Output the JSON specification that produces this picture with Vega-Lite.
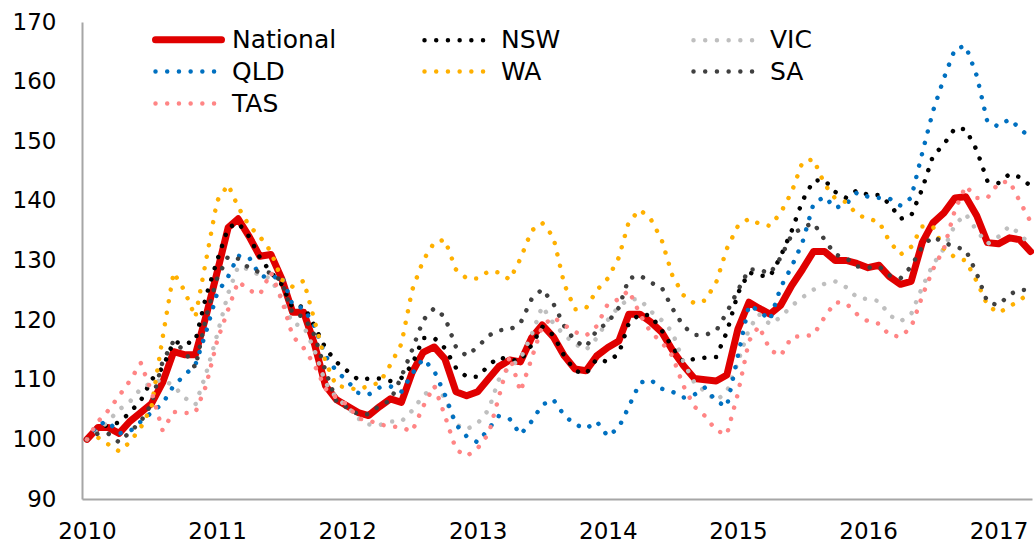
{
  "$schema": "https://vega.github.io/schema/vega-lite/v6.json",
  "width": 950,
  "height": 477,
  "autosize": {"type": "none"},
  "padding": {"left": 82, "top": 22, "right": 2, "bottom": 46},
  "background": "white",
  "config": {"view": {"stroke": null}, "font": "DejaVu Sans"},
  "data": {"values": [
    {"d": "2010/01/01", "National": 100, "NSW": 100, "VIC": 100, "QLD": 100, "WA": 100, "SA": 100, "TAS": 100},
    {"d": "2010/02/01", "National": 102, "NSW": 101.7, "VIC": 101.5, "QLD": 102.5, "WA": 100.3, "SA": 101, "TAS": 103},
    {"d": "2010/03/01", "National": 102, "NSW": 102.5, "VIC": 103, "QLD": 103, "WA": 99.2, "SA": 101, "TAS": 104.8},
    {"d": "2010/04/01", "National": 101, "NSW": 102.8, "VIC": 105, "QLD": 101, "WA": 98, "SA": 99.5, "TAS": 107.3},
    {"d": "2010/05/01", "National": 103, "NSW": 104.5, "VIC": 106.3, "QLD": 101.3, "WA": 99.5, "SA": 101.2, "TAS": 109.8},
    {"d": "2010/06/01", "National": 104.5, "NSW": 106.5, "VIC": 108.5, "QLD": 103, "WA": 102, "SA": 103, "TAS": 112.8},
    {"d": "2010/07/01", "National": 106, "NSW": 110, "VIC": 109.5, "QLD": 104.5, "WA": 105.5, "SA": 106, "TAS": 108},
    {"d": "2010/08/01", "National": 109.5, "NSW": 112, "VIC": 110, "QLD": 106, "WA": 117, "SA": 113, "TAS": 101.5},
    {"d": "2010/09/01", "National": 114.7, "NSW": 116.4, "VIC": 109, "QLD": 109, "WA": 128, "SA": 116.5, "TAS": 104.6},
    {"d": "2010/10/01", "National": 114.2, "NSW": 116, "VIC": 107, "QLD": 110.7, "WA": 125, "SA": 114.8, "TAS": 104.4},
    {"d": "2010/11/01", "National": 114.2, "NSW": 116.5, "VIC": 105.8, "QLD": 112.5, "WA": 120.5, "SA": 112, "TAS": 104.5},
    {"d": "2010/12/01", "National": 120.7, "NSW": 124, "VIC": 111, "QLD": 118, "WA": 130, "SA": 120.5, "TAS": 109},
    {"d": "2011/01/01", "National": 128, "NSW": 130, "VIC": 117.5, "QLD": 124.5, "WA": 140, "SA": 127, "TAS": 116.5},
    {"d": "2011/02/01", "National": 135.5, "NSW": 135.5, "VIC": 124.5, "QLD": 127.3, "WA": 142.7, "SA": 130.7, "TAS": 121.8},
    {"d": "2011/03/01", "National": 137, "NSW": 136.3, "VIC": 129, "QLD": 130.8, "WA": 139, "SA": 130.3, "TAS": 126.5},
    {"d": "2011/04/01", "National": 134, "NSW": 134, "VIC": 128.5, "QLD": 130.5, "WA": 135.8, "SA": 128.7, "TAS": 125},
    {"d": "2011/05/01", "National": 130.7, "NSW": 130.5, "VIC": 127.5, "QLD": 127.5, "WA": 134, "SA": 128, "TAS": 124.3},
    {"d": "2011/06/01", "National": 131, "NSW": 128, "VIC": 127, "QLD": 127, "WA": 131.5, "SA": 128, "TAS": 128},
    {"d": "2011/07/01", "National": 127, "NSW": 126, "VIC": 123.5, "QLD": 127.5, "WA": 126.8, "SA": 126.5, "TAS": 123.5},
    {"d": "2011/08/01", "National": 121.3, "NSW": 122, "VIC": 119.4, "QLD": 122.5, "WA": 125.6, "SA": 121, "TAS": 117.3},
    {"d": "2011/09/01", "National": 121.3, "NSW": 122.4, "VIC": 119, "QLD": 122, "WA": 126.6, "SA": 120.6, "TAS": 115.3},
    {"d": "2011/10/01", "National": 116, "NSW": 119, "VIC": 115, "QLD": 119, "WA": 120, "SA": 117.5, "TAS": 112.5},
    {"d": "2011/11/01", "National": 109, "NSW": 115.3, "VIC": 109.5, "QLD": 114, "WA": 113, "SA": 111.5, "TAS": 108.5},
    {"d": "2011/12/01", "National": 106.7, "NSW": 113, "VIC": 107, "QLD": 111.5, "WA": 109, "SA": 106.5, "TAS": 107},
    {"d": "2012/01/01", "National": 105.6, "NSW": 111.5, "VIC": 105.5, "QLD": 109.8, "WA": 108.7, "SA": 105.3, "TAS": 105.8},
    {"d": "2012/02/01", "National": 104.5, "NSW": 110, "VIC": 103.5, "QLD": 107.8, "WA": 108.3, "SA": 104.2, "TAS": 103.5},
    {"d": "2012/03/01", "National": 104, "NSW": 110.2, "VIC": 102.5, "QLD": 107.5, "WA": 109, "SA": 104.2, "TAS": 103.2},
    {"d": "2012/04/01", "National": 105.5, "NSW": 110.2, "VIC": 102.4, "QLD": 108.7, "WA": 109.5, "SA": 105.7, "TAS": 102.5},
    {"d": "2012/05/01", "National": 106.8, "NSW": 109.8, "VIC": 103, "QLD": 108.9, "WA": 112.5, "SA": 106.5, "TAS": 102.2},
    {"d": "2012/06/01", "National": 106.2, "NSW": 110.3, "VIC": 103, "QLD": 108, "WA": 116, "SA": 110.5, "TAS": 102},
    {"d": "2012/07/01", "National": 111.2, "NSW": 112.5, "VIC": 104.8, "QLD": 111, "WA": 125, "SA": 115, "TAS": 101.3},
    {"d": "2012/08/01", "National": 114.6, "NSW": 117, "VIC": 107.3, "QLD": 113.5, "WA": 130, "SA": 120, "TAS": 105.5},
    {"d": "2012/09/01", "National": 115.5, "NSW": 117, "VIC": 108.9, "QLD": 111.5, "WA": 133, "SA": 122, "TAS": 109},
    {"d": "2012/10/01", "National": 113.5, "NSW": 115.3, "VIC": 107, "QLD": 107.5, "WA": 133.5, "SA": 120.5, "TAS": 104},
    {"d": "2012/11/01", "National": 108, "NSW": 112, "VIC": 102.5, "QLD": 102.5, "WA": 128.5, "SA": 115.5, "TAS": 98.3},
    {"d": "2012/12/01", "National": 107.3, "NSW": 110.5, "VIC": 101.7, "QLD": 100.5, "WA": 127, "SA": 114, "TAS": 97.2},
    {"d": "2013/01/01", "National": 108, "NSW": 110.5, "VIC": 102.7, "QLD": 99.5, "WA": 127, "SA": 115.5, "TAS": 98.5},
    {"d": "2013/02/01", "National": 110.2, "NSW": 112.4, "VIC": 105, "QLD": 101.8, "WA": 128.2, "SA": 117.4, "TAS": 101},
    {"d": "2013/03/01", "National": 112.2, "NSW": 113.8, "VIC": 110, "QLD": 103.9, "WA": 128, "SA": 118.3, "TAS": 107},
    {"d": "2013/04/01", "National": 113.3, "NSW": 113.3, "VIC": 112.2, "QLD": 103.4, "WA": 126.8, "SA": 118.4, "TAS": 114},
    {"d": "2013/05/01", "National": 113, "NSW": 113.2, "VIC": 113.5, "QLD": 100.8, "WA": 130.3, "SA": 119.5, "TAS": 108},
    {"d": "2013/06/01", "National": 117, "NSW": 115.8, "VIC": 117.5, "QLD": 103, "WA": 135, "SA": 123.5, "TAS": 113.5},
    {"d": "2013/07/01", "National": 119.2, "NSW": 118.9, "VIC": 122.3, "QLD": 105.8, "WA": 136.3, "SA": 125.2, "TAS": 119},
    {"d": "2013/08/01", "National": 117.2, "NSW": 117.5, "VIC": 119.5, "QLD": 106.7, "WA": 134, "SA": 122.8, "TAS": 120.5},
    {"d": "2013/09/01", "National": 114, "NSW": 114, "VIC": 117.5, "QLD": 104, "WA": 126, "SA": 119, "TAS": 119.2},
    {"d": "2013/10/01", "National": 111.8, "NSW": 111.5, "VIC": 116, "QLD": 102.5, "WA": 121.8, "SA": 116.5, "TAS": 118},
    {"d": "2013/11/01", "National": 111.5, "NSW": 111, "VIC": 115, "QLD": 101.8, "WA": 122, "SA": 115.5, "TAS": 117.4},
    {"d": "2013/12/01", "National": 114, "NSW": 113.5, "VIC": 117, "QLD": 103, "WA": 125, "SA": 118.3, "TAS": 119},
    {"d": "2014/01/01", "National": 115.4, "NSW": 113, "VIC": 120, "QLD": 100.5, "WA": 127, "SA": 119.6, "TAS": 122.7},
    {"d": "2014/02/01", "National": 116.5, "NSW": 114.4, "VIC": 122.3, "QLD": 102, "WA": 130.5, "SA": 122.1, "TAS": 123.5},
    {"d": "2014/03/01", "National": 121, "NSW": 119.5, "VIC": 123.5, "QLD": 105.5, "WA": 136.5, "SA": 127, "TAS": 125},
    {"d": "2014/04/01", "National": 121, "NSW": 121, "VIC": 123.5, "QLD": 109.5, "WA": 138.5, "SA": 127.5, "TAS": 121},
    {"d": "2014/05/01", "National": 119.7, "NSW": 120.8, "VIC": 121.5, "QLD": 110, "WA": 137, "SA": 126.3, "TAS": 118},
    {"d": "2014/06/01", "National": 118, "NSW": 118.3, "VIC": 120, "QLD": 108.5, "WA": 133.5, "SA": 125.5, "TAS": 116.3},
    {"d": "2014/07/01", "National": 115, "NSW": 115.5, "VIC": 118, "QLD": 108, "WA": 127.5, "SA": 122, "TAS": 114},
    {"d": "2014/08/01", "National": 112.4, "NSW": 113, "VIC": 113, "QLD": 107, "WA": 124.2, "SA": 119, "TAS": 109},
    {"d": "2014/09/01", "National": 110.2, "NSW": 113.5, "VIC": 109.5, "QLD": 107.5, "WA": 122.8, "SA": 117.5, "TAS": 105.5},
    {"d": "2014/10/01", "National": 110, "NSW": 113.7, "VIC": 108, "QLD": 108.7, "WA": 123.3, "SA": 117.5, "TAS": 103.9},
    {"d": "2014/11/01", "National": 109.8, "NSW": 113.8, "VIC": 106.5, "QLD": 106.4, "WA": 126.3, "SA": 118.2, "TAS": 101.5},
    {"d": "2014/12/01", "National": 110.8, "NSW": 118, "VIC": 108, "QLD": 105.5, "WA": 132, "SA": 121.3, "TAS": 100.8},
    {"d": "2015/01/01", "National": 118.5, "NSW": 124.5, "VIC": 113, "QLD": 114, "WA": 135.8, "SA": 125, "TAS": 107.7},
    {"d": "2015/02/01", "National": 123, "NSW": 128, "VIC": 118.5, "QLD": 122.5, "WA": 137, "SA": 128.5, "TAS": 116.5},
    {"d": "2015/03/01", "National": 122, "NSW": 127.5, "VIC": 121, "QLD": 121.6, "WA": 136.2, "SA": 128.5, "TAS": 119},
    {"d": "2015/04/01", "National": 121, "NSW": 127.3, "VIC": 119.3, "QLD": 120, "WA": 135.8, "SA": 127.8, "TAS": 115},
    {"d": "2015/05/01", "National": 122.5, "NSW": 130.7, "VIC": 120.5, "QLD": 125.5, "WA": 138, "SA": 130.5, "TAS": 114},
    {"d": "2015/06/01", "National": 125.8, "NSW": 135, "VIC": 122.4, "QLD": 129, "WA": 141.5, "SA": 134.3, "TAS": 117.2},
    {"d": "2015/07/01", "National": 128.5, "NSW": 140, "VIC": 123.8, "QLD": 133, "WA": 146.5, "SA": 135.5, "TAS": 117.3},
    {"d": "2015/08/01", "National": 131.5, "NSW": 143.4, "VIC": 125.1, "QLD": 139.5, "WA": 147, "SA": 136.3, "TAS": 117.5},
    {"d": "2015/09/01", "National": 131.5, "NSW": 143.5, "VIC": 126.1, "QLD": 140.7, "WA": 142.8, "SA": 133.5, "TAS": 120.5},
    {"d": "2015/10/01", "National": 130, "NSW": 141.5, "VIC": 126.5, "QLD": 138.8, "WA": 140.4, "SA": 131, "TAS": 123},
    {"d": "2015/11/01", "National": 130, "NSW": 140.5, "VIC": 125.5, "QLD": 139.5, "WA": 139.8, "SA": 130.4, "TAS": 122.8},
    {"d": "2015/12/01", "National": 129.5, "NSW": 141.8, "VIC": 123.8, "QLD": 141.4, "WA": 137.7, "SA": 129, "TAS": 121},
    {"d": "2016/01/01", "National": 128.8, "NSW": 141, "VIC": 123.5, "QLD": 140.7, "WA": 137, "SA": 128.8, "TAS": 119.8},
    {"d": "2016/02/01", "National": 129.2, "NSW": 141, "VIC": 123.2, "QLD": 140.5, "WA": 136.5, "SA": 129, "TAS": 119.4},
    {"d": "2016/03/01", "National": 127.3, "NSW": 139.5, "VIC": 120.8, "QLD": 140.4, "WA": 133.2, "SA": 127.5, "TAS": 117.5},
    {"d": "2016/04/01", "National": 126, "NSW": 137, "VIC": 119.8, "QLD": 139.2, "WA": 131, "SA": 127, "TAS": 117.2},
    {"d": "2016/05/01", "National": 126.5, "NSW": 137.5, "VIC": 121, "QLD": 140.5, "WA": 132.3, "SA": 129, "TAS": 118.8},
    {"d": "2016/06/01", "National": 133, "NSW": 142, "VIC": 125.5, "QLD": 148, "WA": 135.7, "SA": 132.3, "TAS": 124},
    {"d": "2016/07/01", "National": 136.3, "NSW": 147.5, "VIC": 129.3, "QLD": 155, "WA": 135.7, "SA": 134, "TAS": 128.5},
    {"d": "2016/08/01", "National": 138, "NSW": 149.5, "VIC": 132, "QLD": 160.6, "WA": 132, "SA": 133, "TAS": 132},
    {"d": "2016/09/01", "National": 140.5, "NSW": 152.2, "VIC": 136, "QLD": 165.5, "WA": 130.5, "SA": 132.3, "TAS": 138.5},
    {"d": "2016/10/01", "National": 140.7, "NSW": 152, "VIC": 137.8, "QLD": 166, "WA": 130, "SA": 131.8, "TAS": 142.5},
    {"d": "2016/11/01", "National": 137.5, "NSW": 148.5, "VIC": 135, "QLD": 161, "WA": 126.5, "SA": 127.8, "TAS": 140.5},
    {"d": "2016/12/01", "National": 133, "NSW": 143.3, "VIC": 132.8, "QLD": 153.2, "WA": 122.5, "SA": 123, "TAS": 140.5},
    {"d": "2017/01/01", "National": 132.8, "NSW": 143, "VIC": 134, "QLD": 152.5, "WA": 121.2, "SA": 122.5, "TAS": 143},
    {"d": "2017/02/01", "National": 133.8, "NSW": 144.5, "VIC": 135.8, "QLD": 153.7, "WA": 122.3, "SA": 124.3, "TAS": 143.3},
    {"d": "2017/03/01", "National": 133.5, "NSW": 144, "VIC": 134.5, "QLD": 152.2, "WA": 123.3, "SA": 125.1, "TAS": 140},
    {"d": "2017/04/01", "National": 131.5, "NSW": 142.5, "VIC": 132.5, "QLD": 150.5, "WA": 124.7, "SA": 125, "TAS": 136.5}
  ]},
  "transform": [
    {"fold": ["National", "NSW", "VIC", "QLD", "WA", "SA", "TAS"], "as": ["series", "value"]}
  ],
  "encoding": {
    "x": {
      "field": "d", "type": "temporal",
      "scale": {"domain": [{"year": 2009, "month": 12, "date": 18}, {"year": 2017, "month": 4, "date": 5}]},
      "axis": {
        "title": null, "format": "%Y",
        "values": [{"year": 2010}, {"year": 2011}, {"year": 2012}, {"year": 2013}, {"year": 2014}, {"year": 2015}, {"year": 2016}, {"year": 2017}],
        "grid": false, "ticks": false, "labelFlush": false, "labelOverlap": false, "labelBound": false,
        "labelFont": "DejaVu Sans", "labelFontSize": 23, "labelColor": "#000000", "labelPadding": 39,
        "labelAlign": "center", "labelBaseline": "alphabetic",
        "domainColor": "#A6A6A6", "domainWidth": 2
      }
    },
    "y": {
      "field": "value", "type": "quantitative",
      "scale": {"domain": [90, 170], "nice": false, "zero": false},
      "axis": {
        "title": null, "values": [90, 100, 110, 120, 130, 140, 150, 160, 170],
        "grid": false, "ticks": false, "labelFlush": false, "labelOverlap": false,
        "labelFont": "DejaVu Sans", "labelFontSize": 23, "labelColor": "#000000", "labelPadding": 26,
        "domainColor": "#A6A6A6", "domainWidth": 2
      }
    },
    "color": {
      "field": "series", "type": "nominal",
      "scale": {
        "domain": ["National", "NSW", "VIC", "QLD", "WA", "SA", "TAS"],
        "range": ["#E00000", "#000000", "#BFBFBF", "#0070C0", "#FFB000", "#404040", "#FF8585"]
      },
      "legend": {
        "title": null, "orient": "none", "direction": "horizontal", "legendX": 94, "legendY": 5,
        "columns": 3, "gridAlign": "all", "columnPadding": 78, "rowPadding": 5,
        "symbolType": "stroke", "symbolSize": 4356, "symbolStrokeWidth": 4.5,
        "labelFont": "DejaVu Sans", "labelFontSize": 25, "labelColor": "#000000", "labelOffset": 31, "labelLimit": 300,
        "encode": {
          "symbols": {
            "update": {
              "strokeDash": {"signal": "datum.value === 'National' ? [1, 0] : [0.01, 11.7]"},
              "strokeWidth": {"signal": "datum.value === 'National' ? 7 : 4.5"},
              "strokeCap": {"value": "round"}
            }
          }
        }
      }
    }
  },
  "layer": [
    {
      "transform": [{"filter": "datum.series === 'National'"}],
      "mark": {"type": "line", "strokeWidth": 7, "strokeJoin": "round", "strokeCap": "round"}
    },
    {
      "transform": [{"filter": "datum.series !== 'National'"}],
      "mark": {"type": "line", "strokeWidth": 4.5, "strokeCap": "round", "strokeDash": [0.01, 11.7]}
    }
  ]
}
